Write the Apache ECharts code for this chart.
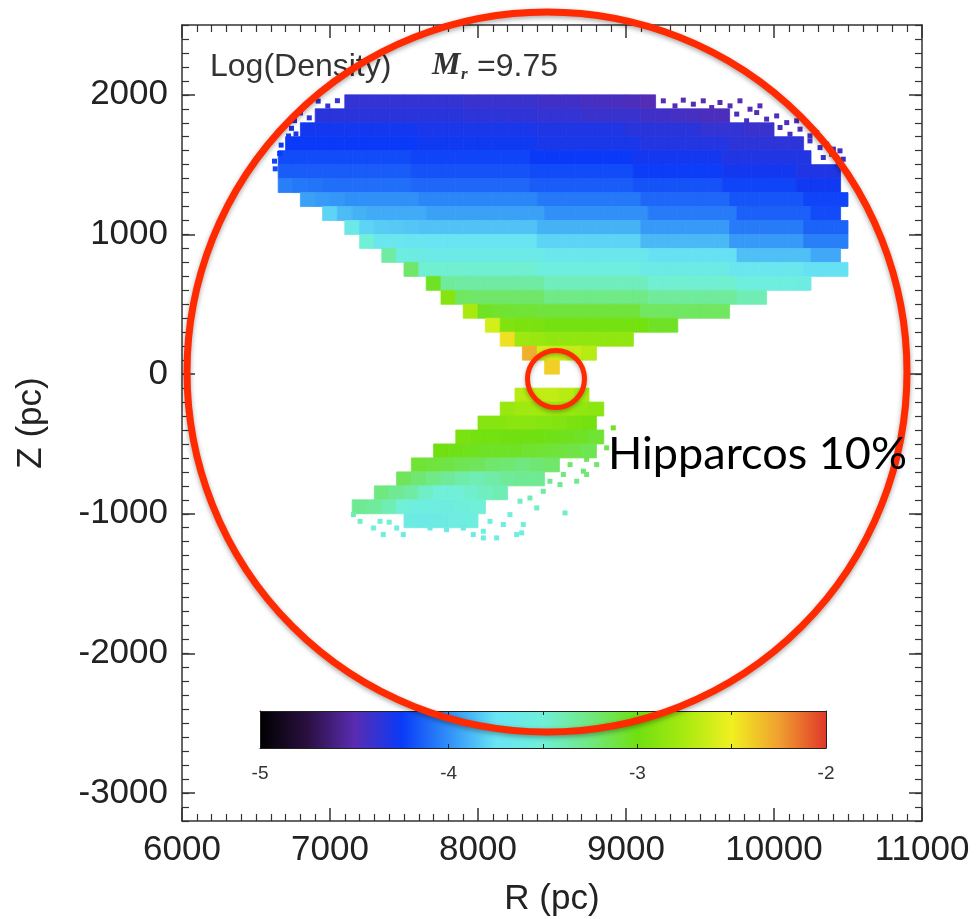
<!DOCTYPE html>
<html><head><meta charset="utf-8">
<script src="https://cdn.jsdelivr.net/npm/echarts@6/dist/echarts.min.js"></script>
<style>html,body{margin:0;padding:0;background:#fff}#c{width:978px;height:919px}</style>
</head><body><div id="c"></div>
<script>
// ---------------- data ----------------
const xTickValues = [6000, 7000, 8000, 9000, 10000, 11000];
const yTickValues = [-3000, -2000, -1000, 0, 1000, 2000];
const colorbarLabels = [-5, -4, -3, -2];
const colorbarTicks = [-4, -3.5, -3, -2.5];
// colour table (even steps from -5 to -2)
const colormap = ['#000000','#2a1040','#5a2cb0','#0a3af8','#3090f8','#68e4f4','#70f0d8','#70e880','#70e010','#a8ea10','#f0f020','#f0a030','#e03828'];

// upper cone: bottom Z of each 100 pc row, R of first 100 pc cell, log density per cell
const topRowZ = [1900, 1800, 1700, 1600, 1500, 1400, 1300, 1200, 1100, 1000, 900, 800, 700, 600, 500, 400, 300, 200, 100, 0];
const topRowStartR = [7100, 6900, 6800, 6700, 6650, 6650, 6650, 6800, 6950, 7100, 7200, 7350, 7500, 7650, 7750, 7900, 8050, 8150, 8300, 8450];
const topRowValues = [
  [-4.38,-4.38,-4.38,-4.38,-4.38,-4.38,-4.38,-4.38,-4.4,-4.4,-4.4,-4.4,-4.4,-4.42,-4.42,-4.42,-4.44,-4.44,-4.45,-4.46,-4.48],
  [-4.35,-4.35,-4.35,-4.35,-4.35,-4.35,-4.35,-4.35,-4.35,-4.35,-4.36,-4.36,-4.36,-4.37,-4.37,-4.38,-4.38,-4.38,-4.4,-4.4,-4.4,-4.4,-4.42,-4.42,-4.43,-4.44,-4.45,-4.46],
  [-4.28,-4.28,-4.28,-4.28,-4.28,-4.28,-4.28,-4.28,-4.3,-4.3,-4.3,-4.3,-4.3,-4.3,-4.3,-4.3,-4.32,-4.32,-4.32,-4.32,-4.32,-4.32,-4.35,-4.35,-4.35,-4.35,-4.35,-4.38,-4.38,-4.38,-4.4,-4.4],
  [-4.25,-4.25,-4.25,-4.25,-4.25,-4.25,-4.25,-4.25,-4.25,-4.27,-4.27,-4.27,-4.27,-4.27,-4.27,-4.27,-4.27,-4.3,-4.3,-4.3,-4.3,-4.3,-4.3,-4.3,-4.33,-4.33,-4.33,-4.33,-4.33,-4.33,-4.36,-4.36,-4.36,-4.36,-4.36],
  [-4.2,-4.2,-4.2,-4.2,-4.2,-4.2,-4.2,-4.2,-4.2,-4.22,-4.22,-4.22,-4.22,-4.22,-4.22,-4.22,-4.22,-4.25,-4.25,-4.25,-4.25,-4.25,-4.25,-4.25,-4.28,-4.28,-4.28,-4.28,-4.28,-4.28,-4.32,-4.32,-4.32,-4.32,-4.32,-4.32],
  [-4.15,-4.15,-4.15,-4.15,-4.15,-4.15,-4.15,-4.15,-4.15,-4.18,-4.18,-4.18,-4.18,-4.18,-4.18,-4.18,-4.18,-4.2,-4.2,-4.2,-4.2,-4.2,-4.2,-4.2,-4.24,-4.24,-4.24,-4.24,-4.24,-4.24,-4.28,-4.28,-4.28,-4.28,-4.28,-4.32,-4.32,-4.32],
  [-4.05,-4.07,-4.08,-4.1,-4.1,-4.1,-4.1,-4.1,-4.1,-4.12,-4.12,-4.12,-4.12,-4.12,-4.12,-4.12,-4.12,-4.15,-4.15,-4.15,-4.15,-4.15,-4.15,-4.15,-4.18,-4.18,-4.18,-4.18,-4.18,-4.18,-4.22,-4.22,-4.22,-4.22,-4.22,-4.27,-4.27,-4.27],
  [-3.95,-3.97,-3.98,-4.0,-4.0,-4.0,-4.0,-4.0,-4.03,-4.03,-4.03,-4.03,-4.03,-4.03,-4.03,-4.03,-4.07,-4.07,-4.07,-4.07,-4.07,-4.07,-4.07,-4.12,-4.12,-4.12,-4.12,-4.12,-4.12,-4.17,-4.17,-4.17,-4.17,-4.17,-4.22,-4.22,-4.22],
  [-3.8,-3.87,-3.9,-3.92,-3.92,-3.92,-3.92,-3.95,-3.95,-3.95,-3.95,-3.95,-3.95,-3.95,-3.95,-4.0,-4.0,-4.0,-4.0,-4.0,-4.0,-4.0,-4.06,-4.06,-4.06,-4.06,-4.06,-4.06,-4.14,-4.14,-4.14,-4.14,-4.14,-4.2,-4.2],
  [-3.65,-3.8,-3.82,-3.83,-3.84,-3.85,-3.85,-3.85,-3.85,-3.85,-3.85,-3.85,-3.85,-3.9,-3.9,-3.9,-3.9,-3.9,-3.9,-3.9,-3.97,-3.97,-3.97,-3.97,-3.97,-3.97,-4.06,-4.06,-4.06,-4.06,-4.06,-4.13,-4.13,-4.13],
  [-3.5,-3.7,-3.7,-3.72,-3.74,-3.74,-3.74,-3.74,-3.74,-3.74,-3.74,-3.74,-3.8,-3.8,-3.8,-3.8,-3.8,-3.8,-3.8,-3.88,-3.88,-3.88,-3.88,-3.88,-3.88,-3.97,-3.97,-3.97,-3.97,-3.97,-4.05,-4.05,-4.05],
  [-3.35,-3.58,-3.6,-3.63,-3.63,-3.63,-3.63,-3.63,-3.63,-3.63,-3.63,-3.68,-3.68,-3.68,-3.68,-3.68,-3.68,-3.68,-3.76,-3.76,-3.76,-3.76,-3.76,-3.76,-3.86,-3.86,-3.86,-3.86,-3.86,-3.93,-3.93],
  [-3.2,-3.48,-3.48,-3.48,-3.48,-3.48,-3.48,-3.48,-3.48,-3.55,-3.55,-3.55,-3.55,-3.55,-3.55,-3.55,-3.62,-3.62,-3.62,-3.62,-3.62,-3.62,-3.7,-3.7,-3.7,-3.7,-3.7,-3.76,-3.76,-3.76],
  [-3.05,-3.33,-3.35,-3.35,-3.35,-3.35,-3.35,-3.35,-3.42,-3.42,-3.42,-3.42,-3.42,-3.42,-3.42,-3.48,-3.48,-3.48,-3.48,-3.48,-3.48,-3.55,-3.55,-3.55,-3.55,-3.58],
  [-2.9,-3.18,-3.2,-3.2,-3.2,-3.2,-3.2,-3.27,-3.27,-3.27,-3.27,-3.27,-3.27,-3.27,-3.33,-3.33,-3.33,-3.33,-3.33,-3.33,-3.4,-3.4],
  [-2.75,-3.05,-3.07,-3.08,-3.08,-3.1,-3.1,-3.1,-3.1,-3.1,-3.1,-3.1,-3.18,-3.18,-3.18,-3.18,-3.18,-3.18],
  [-2.6,-2.93,-2.95,-2.95,-2.98,-2.98,-2.98,-2.98,-2.98,-2.98,-2.98,-3.05,-3.05],
  [-2.45,-2.8,-2.82,-2.85,-2.85,-2.85,-2.85,-2.85,-2.85],
  [-2.3,-2.6,-2.62,-2.65,-2.7],
  [-2.4]
];

// lower cone
const bottomRowZ = [-200, -300, -400, -500, -600, -700, -800, -900, -1000, -1100];
const bottomRowStartR = [8250, 8150, 8000, 7850, 7700, 7550, 7450, 7300, 7150, 7500];
const bottomRowValues = [
  [-2.7,-2.66,-2.66,-2.7,-2.76],
  [-2.82,-2.79,-2.78,-2.8,-2.82,-2.85,-2.88],
  [-2.9,-2.9,-2.88,-2.88,-2.9,-2.92,-2.95,-2.98],
  [-2.96,-2.98,-2.98,-3.0,-3.0,-3.0,-3.02,-3.03,-3.05,-3.08],
  [-3.0,-3.02,-3.03,-3.05,-3.05,-3.05,-3.07,-3.08,-3.1,-3.12,-3.15],
  [-3.08,-3.1,-3.12,-3.15,-3.17,-3.2,-3.22,-3.25,-3.22,-3.2],
  [-3.17,-3.22,-3.27,-3.32,-3.37,-3.4,-3.36,-3.32,-3.3,-3.3],
  [-3.25,-3.3,-3.35,-3.45,-3.5,-3.5,-3.47,-3.43,-3.4],
  [-3.3,-3.33,-3.4,-3.5,-3.55,-3.57,-3.56,-3.52,-3.5],
  [-3.6,-3.62,-3.6,-3.57,-3.55]
];

// isolated sparse points at the ragged edges: [R, Z, log density]
const sparsePoints = [
  [6840,1930,-4.36],[6920,1955,-4.37],[6985,1920,-4.37],[7050,1958,-4.38],
  [6800,1870,-4.34],[6860,1835,-4.34],[6760,1815,-4.33],
  [6740,1760,-4.3],[6770,1720,-4.3],[6720,1705,-4.29],
  [6670,1640,-4.27],[6660,1580,-4.25],[6625,1525,-4.22],[6630,1470,-4.2],
  [9252,1957,-4.48],[9331,1921,-4.48],[9387,1962,-4.5],[9455,1933,-4.48],[9522,1957,-4.5],
  [9579,1909,-4.48],[9635,1945,-4.5],[9703,1921,-4.48],[9770,1957,-4.5],[9905,1921,-4.5],[9838,1897,-4.48],
  [9748,1862,-4.46],[9815,1814,-4.45],[9883,1873,-4.47],[9950,1826,-4.46],[10018,1849,-4.47],[10086,1801,-4.46],[10153,1814,-4.47],
  [10041,1766,-4.44],[10108,1718,-4.43],[10176,1754,-4.45],[10243,1706,-4.44],[10288,1730,-4.45],
  [10243,1670,-4.4],[10356,1646,-4.42],[10311,1622,-4.4],[10401,1611,-4.42],[10446,1599,-4.42],
  [10333,1551,-4.38],[10390,1575,-4.4],[10435,1515,-4.38],[10468,1539,-4.4],
  [8914,-385,-3.05],[8869,-528,-3.15],[8734,-610,-3.15],[8802,-648,-3.2],[8712,-695,-3.2],[8622,-648,-3.2],
  [8577,-719,-3.25],[8486,-767,-3.3],[8554,-791,-3.3],[8734,-719,-3.25],[8667,-767,-3.3],
  [8441,-839,-3.35],[8351,-887,-3.4],[8284,-910,-3.45],[8397,-958,-3.45],[8588,-994,-3.45],
  [8216,-1006,-3.5],[8306,-1077,-3.5],[8261,-1149,-3.55],[8171,-1077,-3.55],[8081,-1054,-3.55],
  [8036,-1125,-3.55],[7968,-1149,-3.6],[8126,-1173,-3.55],[7901,-1102,-3.6],[7788,-1114,-3.6],
  [7676,-1102,-3.6],[7451,-1102,-3.55],[7360,-1149,-3.55],[7293,-1102,-3.5],[7203,-1054,-3.45],
  [7158,-1006,-3.4],[7338,-1054,-3.5],[7495,-1149,-3.6],[8036,-1173,-3.58],[8295,-1137,-3.55],[7400,-1060,-3.5]
];

// ---------------- build chart ----------------
const CELL = 100;
const cells = [];
function addRows(zs, starts, vals) {
  zs.forEach((z, i) => vals[i].forEach((v, j) => cells.push([starts[i] + j * CELL, z, v])));
}
addRows(topRowZ, topRowStartR, topRowValues);
addRows(bottomRowZ, bottomRowStartR, bottomRowValues);

const FONT = '"Liberation Sans", Arial, Helvetica, sans-serif';
const AX = '#333';
const plain = v => String(v);
const chart = echarts.init(document.getElementById('c'), null, {renderer: 'canvas'});

function frameX(pos, labels) {
  return {
    gridIndex: 0, type: 'value', position: pos, min: 6000, max: 11000, interval: 1000, z: 5,
    axisLine: {show: true, onZero: false, lineStyle: {color: AX, width: 1.5}},
    axisTick: {show: true, inside: true, length: 13, lineStyle: {color: AX, width: 1.5}},
    minorTick: {show: true, splitNumber: 10, length: 7, lineStyle: {color: AX, width: 1.2}},
    splitLine: {show: false}, minorSplitLine: {show: false},
    axisLabel: labels ? {show: true, fontSize: 35, color: '#222', margin: 12, fontFamily: FONT,
      customValues: xTickValues, formatter: plain} : {show: false},
    name: labels ? 'R (pc)' : '', nameLocation: 'middle', nameGap: 61, nameMoveOverlap: false,
    nameTextStyle: {fontSize: 35, color: '#222', fontFamily: FONT}
  };
}
function frameYMajor(pos, labels) {
  return {
    gridIndex: 0, type: 'value', position: pos, min: -3200, max: 2500, z: 5,
    axisLine: {show: true, onZero: false, lineStyle: {color: AX, width: 1.5}},
    axisTick: {show: true, inside: true, length: 13, customValues: yTickValues, lineStyle: {color: AX, width: 1.5}},
    splitLine: {show: false},
    axisLabel: labels ? {show: true, fontSize: 35, color: '#222', margin: 14, fontFamily: FONT,
      customValues: yTickValues, formatter: plain} : {show: false},
    name: labels ? 'Z (pc)' : '', nameLocation: 'middle', nameGap: 133, nameRotate: 90, nameMoveOverlap: false,
    nameTextStyle: {fontSize: 35, color: '#222', fontFamily: FONT}
  };
}
function frameYMinor(pos) {
  return {
    gridIndex: 0, type: 'value', position: pos, min: -3200, max: 2500, interval: 100, z: 5,
    axisLine: {show: false}, splitLine: {show: false}, axisLabel: {show: false},
    axisTick: {show: true, inside: true, length: 7, lineStyle: {color: AX, width: 1.2}}
  };
}
function cbX(pos, labels) {
  return {
    gridIndex: 1, type: 'value', position: pos, min: -5, max: -2, z: 5,
    axisLine: {show: true, onZero: false, lineStyle: {color: '#222', width: 1}},
    axisTick: {show: true, inside: true, length: 4, customValues: colorbarTicks, lineStyle: {color: '#222', width: 1}},
    splitLine: {show: false},
    axisLabel: labels ? {show: true, fontSize: 19, color: '#333', margin: 16, fontFamily: FONT,
      customValues: colorbarLabels, formatter: plain} : {show: false}
  };
}
function cbY(pos) {
  return {
    gridIndex: 1, type: 'value', position: pos, min: 0, max: 1, z: 5,
    axisLine: {show: true, onZero: false, lineStyle: {color: '#222', width: 1}},
    axisTick: {show: false}, splitLine: {show: false}, axisLabel: {show: false}
  };
}

const option = {
  animation: false,
  backgroundColor: '#ffffff',
  grid: [
    {left: 182, top: 25, width: 740, height: 796, outerBoundsMode: 'none', containLabel: false},
    {left: 260, top: 711, width: 566, height: 37, outerBoundsMode: 'none', containLabel: false}
  ],
  xAxis: [frameX('bottom', true), frameX('top', false), cbX('bottom', true), cbX('top', false)],
  yAxis: [frameYMajor('left', true), frameYMinor('left'), frameYMajor('right', false), frameYMinor('right'), cbY('left'), cbY('right')],
  visualMap: [{
    type: 'continuous', show: false, min: -5, max: -2, dimension: 2, seriesIndex: [0, 1],
    inRange: {color: colormap}
  }],
  series: [
    {
      type: 'custom', xAxisIndex: 0, yAxisIndex: 0, data: cells, z: 2,
      encode: {x: 0, y: 1},
      renderItem: function (params, api) {
        const r = api.value(0), z = api.value(1);
        const p0 = api.coord([r, z + CELL]);
        const p1 = api.coord([r + CELL, z]);
        const c = api.visual('color');
        return {type: 'rect', shape: {x: p0[0], y: p0[1], width: p1[0] - p0[0], height: p1[1] - p0[1]},
          style: {fill: c, stroke: c, lineWidth: 0.8}};
      }
    },
    {
      type: 'scatter', xAxisIndex: 0, yAxisIndex: 0, data: sparsePoints, symbol: 'rect', symbolSize: 5,
      itemStyle: {opacity: 1}, z: 2
    },
    {
      type: 'custom', xAxisIndex: 2, yAxisIndex: 4, data: [[colorbarLabels[0], colorbarLabels[colorbarLabels.length - 1]]], z: 1,
      renderItem: function (params, api) {
        const p0 = api.coord([api.value(0), 1]);
        const p1 = api.coord([api.value(1), 0]);
        const stops = colormap.map((c, i) => ({offset: i / (colormap.length - 1), color: c}));
        return {type: 'rect', shape: {x: p0[0], y: p0[1], width: p1[0] - p0[0], height: p1[1] - p0[1]},
          style: {fill: new echarts.graphic.LinearGradient(0, 0, 1, 0, stops)}};
      }
    }
  ],
  graphic: [
    {type: 'text', left: 210, top: 51, z: 50, style: {text: 'Log(Density)', font: '32px "Liberation Sans"', fill: '#333'}},
    {type: 'text', left: 432, top: 50, z: 50, style: {text: 'M', font: 'italic bold 32px "Liberation Serif"', fill: '#333'}},
    {type: 'text', left: 461, top: 66, z: 50, style: {text: 'r', font: 'italic bold 17px "Liberation Serif"', fill: '#333'}},
    {type: 'text', left: 477, top: 51, z: 50, style: {text: '=9.75', font: '32px "Liberation Sans"', fill: '#333'}},
    {type: 'circle', z: 100, shape: {cx: 547, cy: 372, r: 360},
      style: {fill: 'none', stroke: '#ff2a00', lineWidth: 7, shadowBlur: 5, shadowColor: 'rgba(0,0,0,0.35)', shadowOffsetY: 2}},
    {type: 'circle', z: 100, shape: {cx: 556, cy: 379, r: 28.5},
      style: {fill: 'none', stroke: '#ff2a00', lineWidth: 5, shadowBlur: 4, shadowColor: 'rgba(0,0,0,0.3)', shadowOffsetY: 2}},
    {type: 'text', left: 608, top: 432, z: 100, style: {text: 'Hipparcos 10%', font: '45px Lato, "Open Sans", sans-serif', fill: '#000'}}
  ]
};
chart.setOption(option);
</script>
</body></html>
